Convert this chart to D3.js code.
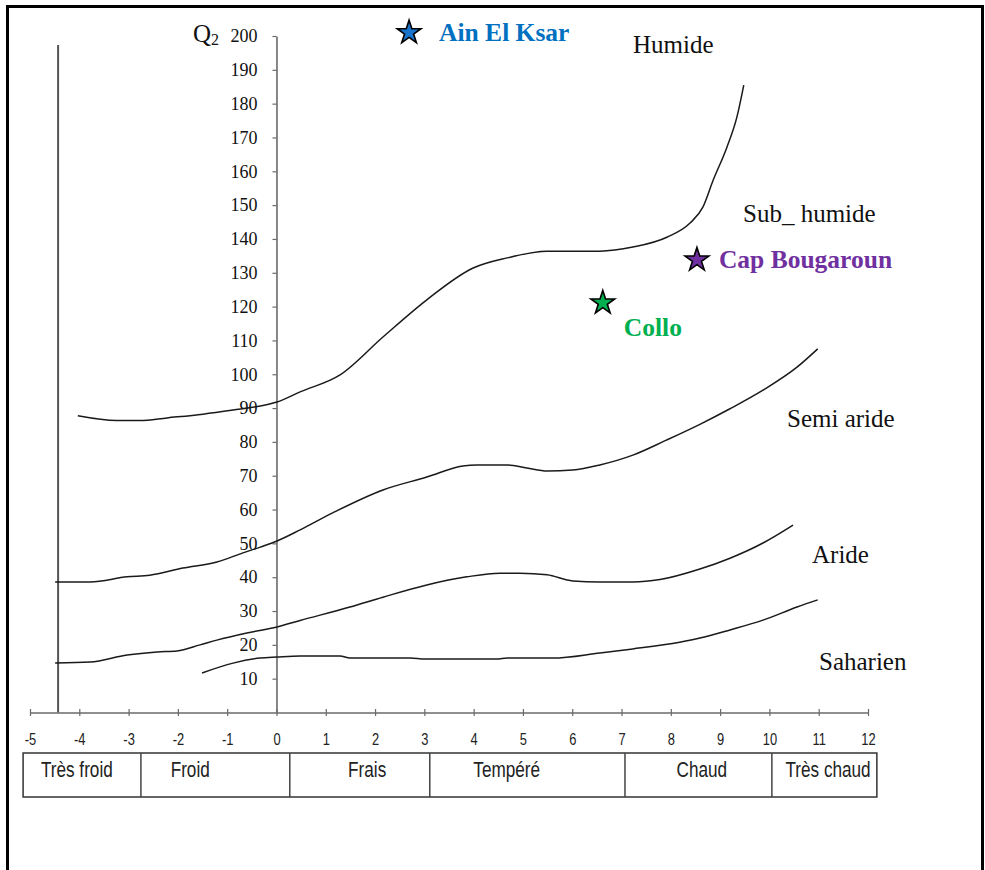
<!DOCTYPE html>
<html>
<head>
<meta charset="utf-8">
<script src="https://cdn.jsdelivr.net/npm/d3@7"></script>
<style>
  html, body { margin: 0; padding: 0; background: #fff; }
  svg { display: block; }
</style>
</head>
<body>
<svg id="chart" width="985" height="870"></svg>
<script>
// Emberger climagram: Q2 against m (mean minimum temperature of the coldest month, °C)

// Boundary curves between bioclimatic stages, as [m, Q2] pairs
const humideLimit = [[-4.03,87.7],[-3.24,86.3],[-2.77,86.3],[-2.22,87.1],[-1.49,88.2],[-0.88,89.4],[-0.33,90.6],[0.01,91.8],[0.48,94.8],[1.29,99.8],[2.16,111],[3.05,122],[3.99,131.4],[4.68,134.4],[5.49,136.4],[6.56,136.4],[7.23,137.6],[7.92,140.5],[8.39,144.7],[8.65,149.4],[8.86,157.4],[9.14,167.2],[9.34,176],[9.48,185.5]];
const semiAridLimit = [[-4.49,38.6],[-3.78,38.6],[-3.03,40.1],[-2.57,40.6],[-1.9,42.7],[-1.21,44.5],[-0.68,47.2],[-0.33,48.9],[0.01,50.7],[0.48,54],[1.15,59.1],[2.16,65.8],[3.05,69.6],[3.78,72.9],[4.07,73.2],[4.68,73.2],[5.08,72.3],[5.49,71.4],[6.01,71.7],[6.56,73.2],[7.23,76.1],[7.92,80.6],[8.59,85.2],[9.2,89.8],[9.87,95.3],[10.56,102.1],[10.98,107.5]];
const aridLimit = [[-4.49,14.6],[-3.78,14.9],[-3.03,17.0],[-2.42,17.9],[-2.02,18.2],[-1.55,20.0],[-1.21,21.4],[-0.6,23.5],[0.01,25.3],[0.48,27.2],[1.49,31.2],[2.16,34.1],[3.05,37.7],[3.86,40.1],[4.53,41.2],[4.94,41.2],[5.49,40.7],[6.01,38.9],[6.56,38.6],[7.23,38.6],[7.78,39.3],[8.59,42.4],[9.2,45.6],[9.87,50.1],[10.48,55.4]];
const saharanLimit = [[-1.51,11.7],[-0.88,14.6],[-0.33,16.1],[0.01,16.4],[0.48,16.7],[1.29,16.7],[1.49,16.1],[2.71,16.1],[3.01,15.8],[4.47,15.8],[4.68,16.1],[5.61,16.1],[6.56,17.6],[7.23,18.8],[8.18,20.8],[8.59,22.0],[9.2,24.4],[9.87,27.3],[10.56,31.2],[10.98,33.3]];

// Bioclimatic stage names
const stageNames = ["Humide", "Sub_ humide", "Semi aride", "Aride", "Saharien"];

// Stations: name, m (°C), Q2
const stationNames = ["Ain El Ksar", "Cap Bougaroun", "Collo"];
const stationM = [2.69, 8.53, 6.62];
const stationQ2 = [201, 133.8, 121.1];

// Winter variants along m (zone limits in °C)
const zoneNames = ["Très froid", "Froid", "Frais", "Tempéré", "Chaud", "Très chaud"];
const zoneBounds = [-5.14, -2.75, 0.27, 3.11, 7.07, 10.05, 12.18];

// Axis ticks
const xTicks = [-5,-4,-3,-2,-1,0,1,2,3,4,5,6,7,8,9,10,11,12];
const yTicks = [10,20,30,40,50,60,70,80,90,100,110,120,130,140,150,160,170,180,190,200];

// ---- layout ----
const svg = d3.select("#chart");
const x = d3.scaleLinear().domain([-5, 12]).range([30, 868]);
const y = d3.scaleLinear().domain([0, 200]).range([712.5, 36]);
const serif = "'Liberation Serif', 'Times New Roman', serif";
const sans = "'Liberation Sans', Arial, sans-serif";
const axisGrey = "#6a6a6a";

svg.append("rect").attr("width", 985).attr("height", 870).attr("fill", "#fff");

// outer frame (open at the bottom)
svg.append("path")
  .attr("d", "M7.5,875 V6.5 H982.5 V875")
  .attr("fill", "none").attr("stroke", "#000").attr("stroke-width", 3);

// vertical reference line at the left
svg.append("line")
  .attr("x1", x(-4.43)).attr("x2", x(-4.43))
  .attr("y1", 45).attr("y2", y(0))
  .attr("stroke", "#555").attr("stroke-width", 2);

// x axis (plain hyphen for negative values)
const xAxis = svg.append("g")
  .attr("transform", `translate(0,${y(0)})`)
  .call(d3.axisBottom(x).tickValues(xTicks).tickFormat(d => String(d)).tickSizeOuter(0));
xAxis.select(".domain").attr("stroke", axisGrey).attr("stroke-width", 1.6);
xAxis.selectAll(".tick line").attr("y1", -3.5).attr("y2", 3.5).attr("stroke", axisGrey).attr("stroke-width", 1.2);
xAxis.selectAll(".tick text")
  .attr("y", null).attr("dy", null)
  .attr("transform", "translate(0,32.5) scale(0.76,1)")
  .attr("font-family", sans).attr("font-size", 17).attr("fill", "#222");

// y axis
const yAxis = svg.append("g")
  .attr("transform", `translate(${x(0)},0)`)
  .call(d3.axisLeft(y).tickValues(yTicks).tickSize(4).tickSizeOuter(0).tickPadding(15));
yAxis.select(".domain").attr("stroke", axisGrey).attr("stroke-width", 1.6);
yAxis.selectAll(".tick line").attr("stroke", axisGrey).attr("stroke-width", 1.2);
yAxis.selectAll(".tick text")
  .attr("font-family", serif).attr("font-size", 18).attr("fill", "#111");

// axis title Q2
const q = svg.append("text").attr("x", 193).attr("y", 42)
  .attr("font-family", serif).attr("font-size", 25).attr("fill", "#111");
q.append("tspan").text("Q");
q.append("tspan").attr("font-size", 16).attr("dy", 3).text("2");

// boundary curves
const line = d3.line().x(d => x(d[0])).y(d => y(d[1])).curve(d3.curveMonotoneX);
[humideLimit, semiAridLimit, aridLimit, saharanLimit].forEach(pts => {
  svg.append("path").attr("d", line(pts))
    .attr("fill", "none").attr("stroke", "#1a1a1a").attr("stroke-width", 1.5);
});

// stage labels
const stageLabelPos = [[633, 52.5], [743, 222], [787, 427], [812, 563], [819, 670]];
svg.selectAll("text.stage").data(stageNames).join("text")
  .attr("class", "stage")
  .attr("x", (d, i) => stageLabelPos[i][0]).attr("y", (d, i) => stageLabelPos[i][1])
  .attr("font-family", serif).attr("font-size", 25).attr("fill", "#111")
  .text(d => d);

// stations
const starFill = ["#1874cd", "#7030a0", "#00b050"];
const textFill = ["#0070c0", "#7030a0", "#00b050"];
const labelOffset = [[30, 8], [22, 8], [21, 33]];
const star = d3.symbol().type(d3.symbolStar).size(175);
stationNames.forEach((name, i) => {
  const sx = x(stationM[i]), sy = y(stationQ2[i]);
  svg.append("path").attr("d", star())
    .attr("transform", `translate(${sx},${sy})`)
    .attr("fill", starFill[i]).attr("stroke", "#000").attr("stroke-width", 1.6);
  svg.append("text")
    .attr("x", sx + labelOffset[i][0]).attr("y", sy + labelOffset[i][1])
    .attr("font-family", serif).attr("font-weight", "bold").attr("font-size", 25.5)
    .attr("fill", textFill[i]).text(name);
});

// winter-variant table under the axis
const tTop = 753, tBot = 797;
svg.append("rect")
  .attr("x", x(zoneBounds[0])).attr("y", tTop)
  .attr("width", x(zoneBounds[zoneBounds.length - 1]) - x(zoneBounds[0]))
  .attr("height", tBot - tTop)
  .attr("fill", "none").attr("stroke", "#333").attr("stroke-width", 1.5);
zoneBounds.slice(1, -1).forEach(b => {
  svg.append("line").attr("x1", x(b)).attr("x2", x(b)).attr("y1", tTop).attr("y2", tBot)
    .attr("stroke", "#444").attr("stroke-width", 1.5);
});
const zoneLabelAt = [-4.05, -1.75, 1.84, 4.67, 8.63, 11.19];
svg.selectAll("text.zone").data(zoneNames).join("text")
  .attr("class", "zone")
  .attr("transform", (d, i) => `translate(${x(zoneLabelAt[i])},777) scale(0.78,1)`)
  .attr("text-anchor", "middle")
  .attr("font-family", sans).attr("font-size", 22).attr("fill", "#222")
  .text(d => d);
</script>
</body>
</html>
